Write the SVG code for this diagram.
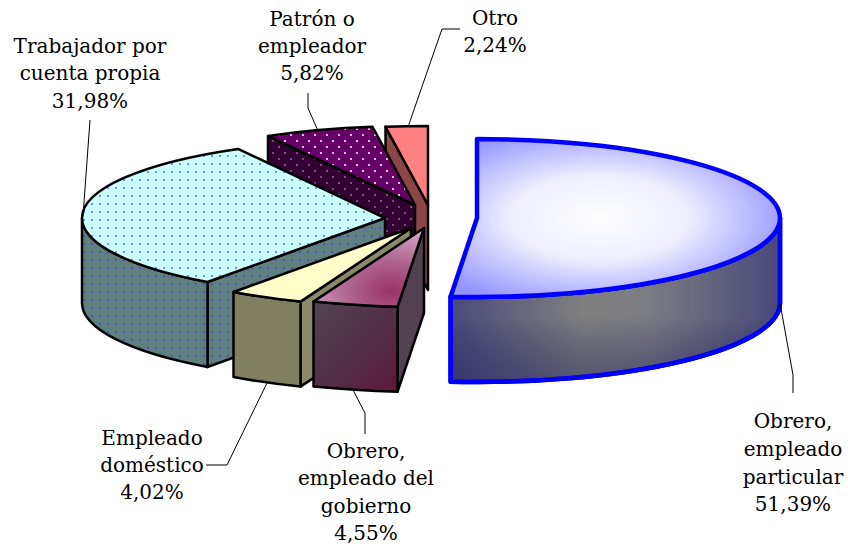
<svg xmlns="http://www.w3.org/2000/svg" width="848" height="552" viewBox="0 0 848 552">
<defs>
<pattern id="dotCyan" width="8" height="8" patternUnits="userSpaceOnUse">
<rect width="8" height="8" fill="#CCFFFF"/><circle cx="4" cy="4" r="0.9" fill="#3366FF"/>
</pattern>
<pattern id="dotTeal" width="8" height="8" patternUnits="userSpaceOnUse">
<rect width="8" height="8" fill="#608080"/><circle cx="4" cy="4" r="0.9" fill="#3344CC"/>
</pattern>
<pattern id="dotPurple" width="12" height="12" patternUnits="userSpaceOnUse">
<rect width="12" height="12" fill="#660066"/><circle cx="3" cy="3" r="1" fill="#FFFFFF"/><circle cx="9" cy="9" r="1" fill="#FFFFFF"/>
</pattern>
<pattern id="dotDark" width="12" height="12" patternUnits="userSpaceOnUse">
<rect width="12" height="12" fill="#330033"/><circle cx="3" cy="3" r="1" fill="#8C6C8C"/><circle cx="9" cy="9" r="1" fill="#8C6C8C"/>
</pattern>
<radialGradient id="gTopBlue" cx="0.45" cy="0.5" r="0.6">
<stop offset="0" stop-color="#FFFFFF"/><stop offset="0.45" stop-color="#EEEEFF"/><stop offset="1" stop-color="#9494FF"/>
</radialGradient>
<linearGradient id="gSideBlue" x1="0" y1="0" x2="1" y2="0">
<stop offset="0" stop-color="#4A4A7C"/><stop offset="0.4" stop-color="#808080"/><stop offset="0.6" stop-color="#7C7C84"/><stop offset="1" stop-color="#48487A"/>
</linearGradient>
<linearGradient id="gSideShade" x1="0" y1="0" x2="0" y2="1">
<stop offset="0" stop-color="#000040" stop-opacity="0"/><stop offset="0.6" stop-color="#000040" stop-opacity="0"/><stop offset="1" stop-color="#202060" stop-opacity="0.45"/>
</linearGradient>
<radialGradient id="gTopGob" cx="0.7" cy="0.8" r="0.8">
<stop offset="0" stop-color="#993366"/><stop offset="0.5" stop-color="#B06690"/><stop offset="1" stop-color="#D4A8C8"/>
</radialGradient>
<linearGradient id="gFrontGob" x1="0" y1="0" x2="1" y2="1">
<stop offset="0" stop-color="#504450"/><stop offset="0.6" stop-color="#542C44"/><stop offset="1" stop-color="#5C1838"/>
</linearGradient>
<style>
.edge{stroke:#000;stroke-width:2.5;stroke-linejoin:round}
.blue{stroke:#0000FF;stroke-width:4.5;stroke-linejoin:round}
.lbl{font-family:"DejaVu Serif","Liberation Serif",serif;font-size:20px;fill:#000;text-anchor:middle}
.lead{fill:none;stroke:#000;stroke-width:1}
</style>
</defs>
<rect width="848" height="552" fill="#FFFFFF"/>

<g id="otro">
<path class="edge" fill="#8C4646" d="M385.5,126.8 L428,205 L428,290 L385.5,211.8 Z"/>
<path class="edge" fill="#FF8080" d="M428,205 L385.5,126.8 A303,79 0 0,1 428,126 Z"/>
<text class="lbl" x="495" y="25">Otro</text>
<text class="lbl" x="495" y="52">2,24%</text>
</g>

<g id="patron">
<path class="edge" fill="url(#dotDark)" d="M268,135.9 L415,205 L415,290 L268,220.9 Z"/>
<path class="edge" fill="url(#dotPurple)" d="M415,205 L268,135.9 A303,79 0 0,1 372.5,126.8 Z"/>
<text class="lbl" x="312" y="26">Patrón o</text>
<text class="lbl" x="312" y="53">empleador</text>
<text class="lbl" x="312" y="80">5,82%</text>
</g>

<g id="trabajador">
<path class="edge" fill="url(#dotTeal)" d="M207.5,282 L385,218 L385,303 L207.5,367 Z"/>
<path class="edge" fill="url(#dotTeal)" d="M82,218 A303,79 0 0,0 207.5,282 L207.5,367 A303,79 0 0,1 82,303 Z"/>
<path class="edge" fill="url(#dotCyan)" d="M385,218 L207.5,282 A303,79 0 0,1 82,218 A303,79 0 0,1 238,148.9 Z"/>
<text class="lbl" x="90" y="53">Trabajador por</text>
<text class="lbl" x="90" y="80">cuenta propia</text>
<text class="lbl" x="90" y="108">31,98%</text>
</g>

<g id="domestico">
<path class="edge" fill="#8A8A6A" d="M411,228 L300.5,301.6 L300.5,386.6 L411,313 Z"/>
<path class="edge" fill="#808060" d="M300.5,301.6 A303,79 0 0,1 233.5,292 L233.5,377 A303,79 0 0,0 300.5,386.6 Z"/>
<path class="edge" fill="#FFFFCC" d="M411,228 L300.5,301.6 A303,79 0 0,1 233.5,292 Z"/>
<text class="lbl" x="152" y="445">Empleado</text>
<text class="lbl" x="152" y="472">doméstico</text>
<text class="lbl" x="152" y="499">4,02%</text>
</g>

<g id="gobierno">
<path class="edge" fill="#524250" d="M424,228 L397.6,306.7 L397.6,391.7 L424,313 Z"/>
<path class="edge" fill="url(#gFrontGob)" d="M397.6,306.7 A303,79 0 0,1 313.5,301.6 L313.5,386.6 A303,79 0 0,0 397.6,391.7 Z"/>
<path class="edge" fill="url(#gTopGob)" d="M424,228 L397.6,306.7 A303,79 0 0,1 313.5,301.6 Z"/>
<text class="lbl" x="366" y="458">Obrero,</text>
<text class="lbl" x="366" y="485">empleado del</text>
<text class="lbl" x="366" y="513">gobierno</text>
<text class="lbl" x="366" y="540">4,55%</text>
</g>

<g id="particular">
<path class="blue" fill="url(#gSideBlue)" d="M780,218 A303,79 0 0,1 450.6,296.7 L450.6,381.7 A303,79 0 0,0 780,303 Z"/>
<path fill="url(#gSideShade)" d="M780,218 A303,79 0 0,1 450.6,296.7 L450.6,381.7 A303,79 0 0,0 780,303 Z"/>
<path class="blue" fill="none" d="M780,218 A303,79 0 0,1 450.6,296.7 L450.6,381.7 A303,79 0 0,0 780,303 Z"/>
<path class="blue" fill="url(#gTopBlue)" d="M477,218 L477,139 A303,79 0 0,1 780,218 A303,79 0 0,1 450.6,296.7 Z"/>
<text class="lbl" x="793" y="428">Obrero,</text>
<text class="lbl" x="793" y="456">empleado</text>
<text class="lbl" x="793" y="484">particular</text>
<text class="lbl" x="793" y="511">51,39%</text>
</g>

<g id="connectors">
<path class="lead" d="M90,120 L83,216"/>
<path class="lead" d="M308,93 L308,108 L318,131"/>
<path class="lead" d="M460,29 L442,29 L408,127"/>
<path class="lead" d="M206,465 L227,465 L267,383"/>
<path class="lead" d="M365,434 L365,413 L353,390"/>
<path class="lead" d="M780,303 L793,375 L793,393"/>
</g>
</svg>
